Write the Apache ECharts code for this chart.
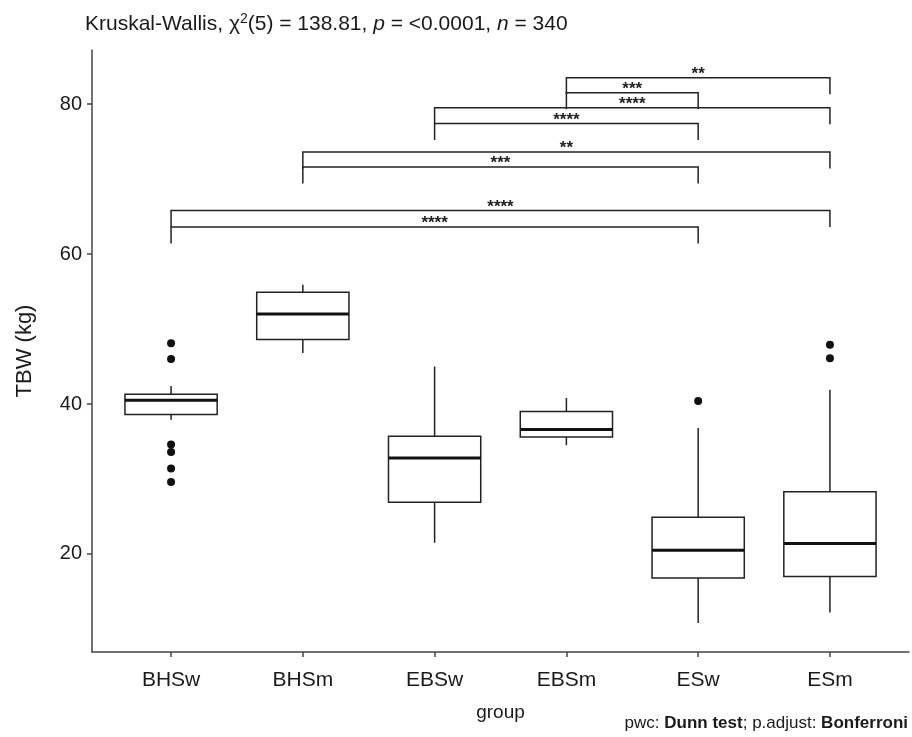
<!DOCTYPE html>
<html>
<head>
<meta charset="utf-8">
<style>
  html, body { margin: 0; padding: 0; background: #fff; }
  #chart { width: 912px; height: 737px; }
</style>
<script src="https://cdn.jsdelivr.net/npm/echarts@6/dist/echarts.min.js"></script>
</head>
<body>
<div id="chart"></div>
<script>
// Total body water by group
const categories   = ['BHSw', 'BHSm', 'EBSw', 'EBSm', 'ESw', 'ESm'];
const whiskerLow   = [37.9, 46.8, 21.5, 34.5, 10.8, 12.2];
const q1           = [38.6, 48.6, 26.9, 35.6, 16.8, 17.0];
const median       = [40.5, 52.0, 32.8, 36.6, 20.5, 21.4];
const q3           = [41.3, 54.9, 35.7, 39.0, 24.9, 28.3];
const whiskerHigh  = [42.4, 55.9, 45.0, 40.8, 36.8, 41.9];

// Outliers: group name and value
const outlierGroup = ['BHSw', 'BHSw', 'BHSw', 'BHSw', 'BHSw', 'BHSw', 'ESw', 'ESm', 'ESm'];
const outlierValue = [48.1, 46.0, 34.6, 33.6, 31.4, 29.6, 40.4, 47.9, 46.1];

// Dunn pairwise comparisons (Bonferroni adjusted)
const pairFrom  = ['EBSm', 'EBSm', 'EBSw', 'EBSw', 'BHSm', 'BHSm', 'BHSw', 'BHSw'];
const pairTo    = ['ESm',  'ESw',  'ESm',  'ESw',  'ESm',  'ESw',  'ESm',  'ESw'];
const pairY     = [83.5, 81.5, 79.5, 77.4, 73.6, 71.6, 65.8, 63.6];
const pairLabel = ['**', '***', '****', '****', '**', '***', '****', '****'];

const yTicks = [20, 40, 60, 80];

const FONT = '"Liberation Sans", Arial, sans-serif';
const INK = '#1a1a1a';
const AXIS = '#444';
const BOX_WIDTH = 0.7;
const TIP = 2.2;

const pos = name => categories.indexOf(name) + 1;

const boxData = categories.map((c, i) =>
  [i + 1, whiskerLow[i], q1[i], median[i], q3[i], whiskerHigh[i]]);
const outlierData = outlierGroup.map((g, i) => [pos(g), outlierValue[i]]);
const bracketData = pairFrom.map((a, i) => [pos(a), pos(pairTo[i]), pairY[i]]);

function renderBox(params, api) {
  const x = api.value(0);
  const pLo = api.coord([x, api.value(1)]);
  const pQ1 = api.coord([x, api.value(2)]);
  const pMed = api.coord([x, api.value(3)]);
  const pQ3 = api.coord([x, api.value(4)]);
  const pHi = api.coord([x, api.value(5)]);
  const half = api.size([BOX_WIDTH, 0])[0] / 2;
  const cx = pMed[0];
  const stroke = { stroke: '#222', lineWidth: 1.5 };
  return {
    type: 'group',
    children: [
      { type: 'line', shape: { x1: cx, y1: pHi[1], x2: cx, y2: pQ3[1] }, style: stroke },
      { type: 'line', shape: { x1: cx, y1: pQ1[1], x2: cx, y2: pLo[1] }, style: stroke },
      { type: 'rect', shape: { x: cx - half, y: pQ3[1], width: half * 2, height: pQ1[1] - pQ3[1] },
        style: { fill: '#fff', stroke: '#222', lineWidth: 1.5 } },
      { type: 'line', shape: { x1: cx - half, y1: pMed[1], x2: cx + half, y2: pMed[1] },
        style: { stroke: '#111', lineWidth: 3 } }
    ]
  };
}

function renderBracket(params, api) {
  const xa = api.value(0), xb = api.value(1), y = api.value(2);
  const top1 = api.coord([xa, y]);
  const top2 = api.coord([xb, y]);
  const bot1 = api.coord([xa, y - TIP]);
  const bot2 = api.coord([xb, y - TIP]);
  return {
    type: 'group',
    children: [
      { type: 'polyline',
        shape: { points: [bot1, top1, top2, bot2] },
        style: { stroke: '#222', lineWidth: 1.5, fill: null } },
      { type: 'text',
        style: {
          text: pairLabel[params.dataIndex],
          x: (top1[0] + top2[0]) / 2, y: top1[1] + 5,
          align: 'center', verticalAlign: 'bottom',
          font: 'bold 17px ' + FONT,
          fill: '#222'
        } }
    ]
  };
}

const chart = echarts.init(document.getElementById('chart'), null, { renderer: 'canvas' });

chart.setOption({
  animation: false,
  backgroundColor: '#fff',
  textStyle: { fontFamily: FONT },
  title: {
    left: 80, top: 7,
    text: '{n|Kruskal-Wallis, χ}{sup|2}{n|(5) = 138.81, }{i|p}{n| = <0.0001, }{i|n}{n| = 340}',
    textStyle: {
      fontWeight: 'normal',
      rich: {
        n: { fontSize: 21, color: INK, fontWeight: 'normal' },
        i: { fontSize: 21, color: INK, fontStyle: 'italic', fontWeight: 'normal' },
        sup: { fontSize: 14, color: INK, fontWeight: 'normal', verticalAlign: 'top', padding: [0, 0, 11, 0] }
      }
    }
  },
  grid: { left: 92, right: 3, top: 50, bottom: 85 },
  xAxis: {
    type: 'value',
    min: 0.4, max: 6.6,
    name: 'group',
    nameLocation: 'middle',
    nameGap: 51,
    nameTextStyle: { fontSize: 19, color: INK },
    splitLine: { show: false },
    axisLine: { show: true, lineStyle: { color: AXIS, width: 1.5 } },
    axisTick: { show: true, length: 5, lineStyle: { color: AXIS, width: 1.5 }, customValues: [1, 2, 3, 4, 5, 6] },
    axisLabel: {
      customValues: [1, 2, 3, 4, 5, 6],
      formatter: v => categories[Math.round(v) - 1] || '',
      fontSize: 21, color: INK, margin: 18
    }
  },
  yAxis: {
    type: 'value',
    min: 6.93, max: 87.2,
    name: 'TBW (kg)',
    nameLocation: 'middle',
    nameRotate: 90,
    nameGap: 56,
    nameTextStyle: { fontSize: 22, color: INK },
    splitLine: { show: false },
    axisLine: { show: true, lineStyle: { color: AXIS, width: 1.5 } },
    axisTick: { show: true, length: 5, lineStyle: { color: AXIS, width: 1.5 }, customValues: yTicks },
    axisLabel: { customValues: yTicks, fontSize: 20, color: INK, margin: 10 }
  },
  series: [
    {
      type: 'custom',
      name: 'box',
      renderItem: renderBox,
      data: boxData,
      encode: { x: 0, y: [1, 2, 3, 4, 5] },
      z: 2
    },
    {
      type: 'scatter',
      name: 'outliers',
      data: outlierData,
      symbol: 'circle',
      symbolSize: 8,
      itemStyle: { color: '#111', opacity: 1 },
      z: 3
    },
    {
      type: 'custom',
      name: 'brackets',
      renderItem: renderBracket,
      data: bracketData,
      encode: { x: [0, 1], y: 2 },
      clip: false,
      z: 4
    }
  ],
  graphic: [
    {
      type: 'text',
      right: 4, top: 715,
      style: {
        text: '{n|pwc: }{b|Dunn test}{n|; p.adjust: }{b|Bonferroni}',
        rich: {
          n: { fontSize: 17, fill: INK, fontFamily: FONT },
          b: { fontSize: 17, fill: INK, fontWeight: 'bold', fontFamily: FONT }
        }
      }
    }
  ]
});
</script>
</body>
</html>
